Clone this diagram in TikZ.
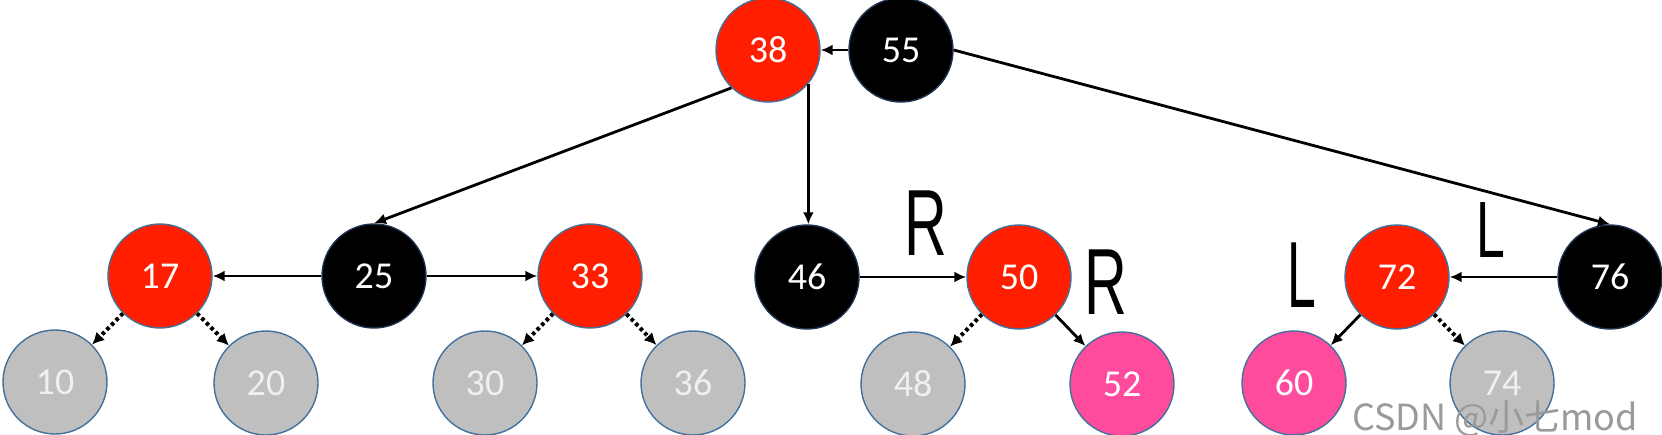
\documentclass[tikz,border=0pt]{standalone}
\usepackage{fontspec}
\setmainfont{Carlito}
\newfontfamily\handfont{Liberation Sans}
\newfontfamily\cjkwm{Noto Sans CJK SC}
\usetikzlibrary{arrows.meta}
\definecolor{rbred}{HTML}{FF1F00}
\definecolor{rbpink}{HTML}{FF4B9E}
\definecolor{rbgray}{HTML}{BFBFBF}
\definecolor{rbedge}{HTML}{41719C}
\definecolor{rbdark}{HTML}{1F3350}
\definecolor{wmgray}{HTML}{9A9A9A}
\tikzset{
  rbnode/.style={circle, minimum size=104pt, inner sep=0pt, line width=1.4pt,
    font=\fontsize{38}{42}\selectfont, text=white},
  rednode/.style={rbnode, fill=rbred, draw=rbedge},
  blacknode/.style={rbnode, fill=black, draw=rbdark},
  pinknode/.style={rbnode, fill=rbpink, draw=rbedge},
  nilnode/.style={rbnode, fill=rbgray, draw=rbedge, text=white!94!black},
  link/.style={line width=2.8pt, -{Latex[length=12pt,width=11pt]}},
  nillink/.style={line width=4pt, dash pattern=on 3.5pt off 3pt, -{Latex[length=12pt,width=12pt]}},
  handmark/.style={font=\handfont\fontsize{94}{100}\selectfont, inner sep=0pt}
}
\begin{document}
\begin{tikzpicture}[x=1pt,y=-1pt]
\useasboundingbox (0,0) rectangle (1662,434);
\clip (0,0) rectangle (1662,434);
% level 0
\node[rednode]   (n38) at (768,50) {38};
\node[blacknode] (n55) at (901,50) {55};
% level 1
\node[rednode]   (n17) at (160,276) {17};
\node[blacknode] (n25) at (374,276) {25};
\node[rednode]   (n33) at (590,276) {33};
\node[blacknode] (n46) at (807,277) {46};
\node[rednode]   (n50) at (1019,277) {50};
\node[rednode]   (n72) at (1397,277) {72};
\node[blacknode] (n76) at (1610,277) {76};
% level 2
\node[nilnode]  (n10) at (55,382) {10};
\node[nilnode]  (n20) at (266,383) {20};
\node[nilnode]  (n30) at (485,383) {30};
\node[nilnode]  (n36) at (693,383) {36};
\node[nilnode]  (n48) at (913,384) {48};
\node[pinknode] (n52) at (1122,384) {52};
\node[pinknode] (n60) at (1294,383) {60};
\node[nilnode]  (n74) at (1502,383) {74};
% connectors
\draw[link] (n55.west) -- (n38.east);
\draw[link] (n55.east) -- (n76.north);
\draw[link] (n38.226) -- (n25.north);
\draw[link] (n38.-40) -- (n38.-40 |- n46.north);
\draw[link] (n25.west) -- (n17.east);
\draw[link] (n25.east) -- (n33.west);
\draw[link] (n46.east) -- (n50.west);
\draw[link] (n76.west) -- (n72.east);
\draw[link] (n50) -- (n52);
\draw[link] (n72) -- (n60);
\draw[nillink] (n17) -- (n10);
\draw[nillink] (n17) -- (n20);
\draw[nillink] (n33) -- (n30);
\draw[nillink] (n33) -- (n36);
\draw[nillink] (n50) -- (n48);
\draw[nillink] (n72) -- (n74);
% handwritten marks
\node[handmark, xscale=0.63] (r1) at (926,223) {R};
\node[handmark, xscale=0.63] (r2) at (1106,282) {R};
\node[handmark, xscale=0.55] (l1) at (1302,275) {L};
\node[handmark, xscale=0.55, yscale=0.85] (l2) at (1491,230) {L};
% watermark
\node[anchor=base west, inner sep=0pt, text=wmgray, font=\cjkwm\fontsize{36}{40}\selectfont] (wm) at (1352,430) {CSDN @小七mod};
\end{tikzpicture}
\end{document}
